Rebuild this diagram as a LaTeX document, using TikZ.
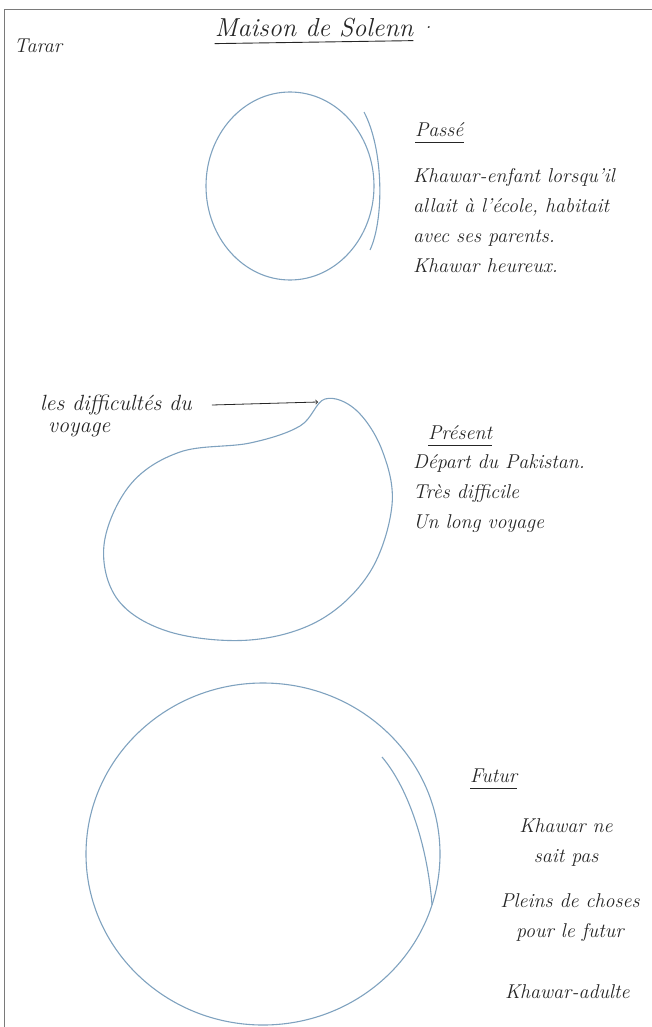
\documentclass[tikz,border=0pt]{standalone}
\usepackage{fontspec}
\usetikzlibrary{positioning}
\definecolor{pencil}{HTML}{7FA2BF}
\definecolor{cadre}{HTML}{7A7A7A}
\tikzset{
  hand/.style={font=\fontsize{20}{30}\selectfont\itshape, text=black!85, inner sep=0pt},
  stroke/.style={pencil, line width=1.1pt},
  souligne/.style={black!85, line width=0.9pt},
}

\begin{document}
\begin{tikzpicture}[x=1pt,y=-1pt]
\useasboundingbox (0,0) rectangle (652,1027);
% Frame of the scan
\draw[cadre, line width=1pt] (4,1027) -- (4,10) -- (652,10);
% Header
\node[hand, anchor=west] (tarar) at (14,46) {Tarar};
\node[hand, font=\fontsize{26}{30}\selectfont\itshape] (titre) at (314,28) {Maison de Solenn};
\draw[souligne] ([yshift=-6pt]titre.south west) -- ([yshift=-3pt]titre.south east);
\node[hand, right=12pt of titre] (point) {.};
% Past
\draw[stroke] (290,186) ellipse [x radius=84, y radius=94];
\draw[stroke] (364,112) .. controls (384,150) and (384,220) .. (370,250);
\node[hand, anchor=west] (passe) at (415,130) {Passé};
\draw[souligne] ([yshift=-5pt]passe.south west) -- ([yshift=-5pt]passe.south east);
\node[hand, align=left, anchor=north west] (passe-txt) at (413,168)
  {Khawar-enfant lorsqu'il\\allait à l'école, habitait\\avec ses parents.\\Khawar heureux.};
% Present
\draw[stroke] plot[smooth cycle, tension=0.6] coordinates {
  (325,399) (300,426) (250,443) (180,452) (130,485) (104,545) (118,600)
  (170,632) (250,640) (320,620) (370,572) (392,505) (382,450) (356,410)};
\coordinate (pointe) at (318,402);
\node[hand, font=\fontsize{22}{30}\selectfont\itshape, anchor=west] (diff) at (40,405) {les difficultés du};
\node[hand, font=\fontsize{22}{30}\selectfont\itshape, anchor=west] (voyage) at (48,430) {voyage};
\draw[->, black!85, line width=0.8pt] ([xshift=20pt]diff.east) -- (pointe);
\node[hand, anchor=west] (present) at (428,433) {Présent};
\draw[souligne] ([yshift=-5pt]present.south west) -- ([yshift=-5pt]present.south east);
\node[hand, align=left, anchor=north west] (present-txt) at (413,454)
  {Départ du Pakistan.\\Très difficile\\Un long voyage};
% Future
\draw[stroke] (263,854) ellipse [x radius=177, y radius=171];
\draw[stroke] (382,757) .. controls (410,790) and (428,850) .. (432,905);
\node[hand, anchor=west] (futur) at (470,776) {Futur};
\draw[souligne] ([yshift=-5pt]futur.south west) -- ([yshift=-5pt]futur.south east);
\node[hand, align=center, anchor=north] (futur-txt) at (566,818)
  {Khawar ne\\sait pas};
\node[hand, align=center, anchor=north] (choses) at (570,893)
  {Pleins de choses\\pour le futur};
\node[hand, anchor=west] (adulte) at (505,992) {Khawar-adulte};
\end{tikzpicture}
\end{document}
